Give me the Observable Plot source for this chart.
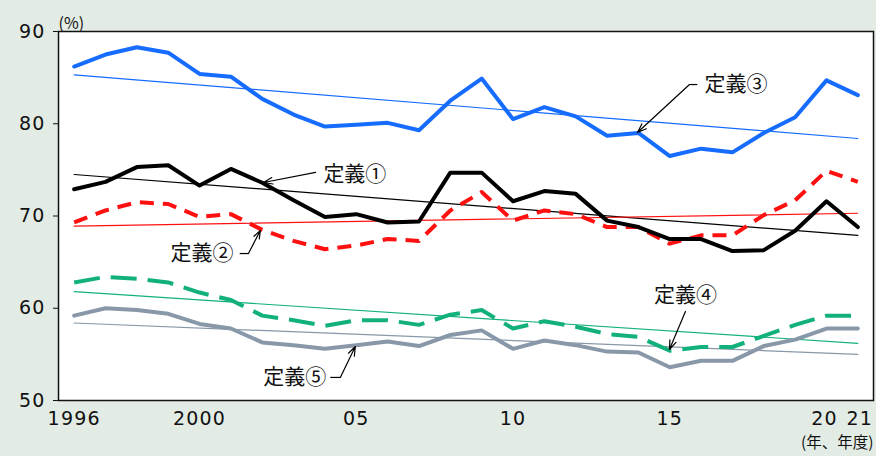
<!DOCTYPE html>
<html><head><meta charset="utf-8">
<script src="https://cdn.jsdelivr.net/npm/d3@7"></script>
<script src="https://cdn.jsdelivr.net/npm/@observablehq/plot@0.6"></script>
<style>
html,body{margin:0;padding:0;background:#e3ece4;}
#chart svg{display:block;}
#chart g[aria-label="x-axis tick label"] text,
#chart g[aria-label="y-axis tick label"] text{letter-spacing:1.2px;}
</style></head><body><div id="chart"></div>
<script>
const years = [1996,1997,1998,1999,2000,2001,2002,2003,2004,2005,2006,2007,2008,2009,2010,2011,2012,2013,2014,2015,2016,2017,2018,2019,2020,2021];
const def1 = [72.9,73.7,75.3,75.5,73.3,75.1,73.6,71.7,69.9,70.2,69.3,69.4,74.7,74.7,71.6,72.7,72.4,69.5,68.8,67.5,67.5,66.2,66.3,68.4,71.6,68.8];
const def2 = [69.3,70.6,71.5,71.3,69.9,70.2,68.5,67.3,66.4,66.8,67.5,67.3,70.6,72.6,69.5,70.6,70.2,68.8,68.8,67.0,67.9,67.9,70.1,71.7,74.9,73.7];
const def3 = [86.2,87.5,88.3,87.7,85.4,85.1,82.7,81.0,79.7,79.9,80.1,79.3,82.5,84.9,80.5,81.8,80.8,78.7,79.0,76.5,77.3,76.9,79.0,80.7,84.7,83.1];
const def4 = [62.8,63.4,63.2,62.8,61.7,60.9,59.2,58.7,58.1,58.7,58.7,58.2,59.3,59.8,57.8,58.6,58.0,57.2,56.9,55.4,55.8,55.8,57.0,58.2,59.2,59.2];
const def5 = [59.2,60.0,59.8,59.4,58.3,57.8,56.3,56.0,55.6,56.0,56.4,55.9,57.1,57.6,55.6,56.5,56.0,55.3,55.2,53.6,54.3,54.3,55.9,56.6,57.8,57.8];
// trend line end values (1996, 2021)
const trendYears = [1996, 2021];
const trend1 = [74.5, 67.9];
const trend2 = [68.9, 70.3];
const trend3 = [85.3, 78.4];
const trend4 = [61.8, 56.2];
const trend5 = [58.4, 55.0];
const yTicks = [50, 60, 70, 80, 90];
const xTicks = [1996, 2000, 2005, 2010, 2015];
const xTickLabels = ["1996", "2000", "05", "10", "15"];
const xTicksEnd = [2020, 2021];
const xTickLabelsEnd = ["20", "21"];
const seriesNames = ["定義①", "定義②", "定義③", "定義④", "定義⑤"];
// label anchors (year, value)
const labelX = [2003.95, 2001.08, 2016.11, 2015.5, 2004.04];
const labelY = [74.5, 65.93, 84.25, 61.4, 52.5];
const labelAnchor = ["start", "end", "start", "middle", "end"];
// leader stubs and arrows (year, value)
const stub1X = [null, 2001.28, 2015.88, null, 2004.17];
const stub2X = [null, 2001.56, 2015.63, null, 2004.49];
const arrowFromX = [2003.7, 2001.56, 2015.63, 2015.5, 2004.49];
const arrowFromY = [74.72, 65.93, 84.25, 59.65, 52.5];
const arrowToX = [2002.04, 2001.94, 2013.97, 2014.99, 2004.97];
const arrowToY = [73.63, 68.44, 79.05, 55.53, 55.85];

const colors = ["#000000", "#ff1010", "#156cff", "#12b07c", "#8898a8"];
const series = [def1, def2, def3, def4, def5];
const trends = [trend1, trend2, trend3, trend4, trend5];
const dashes = [null, "14,9", null, "26,11", null];

const rows = [];
series.forEach((s, i) => s.forEach((v, j) => rows.push({name: seriesNames[i], year: years[j], value: v})));
const trendRows = [];
trends.forEach((t, i) => t.forEach((v, j) => trendRows.push({name: seriesNames[i], year: trendYears[j], value: v})));

const marks = [Plot.frame({fill: "white", stroke: null})];
trends.forEach((t, i) => {
  marks.push(Plot.line(trendRows.filter(d => d.name === seriesNames[i]), {x: "year", y: "value", stroke: colors[i], strokeWidth: 1.2}));
});
[3, 4, 1, 0, 2].forEach(i => {
  marks.push(Plot.line(rows.filter(d => d.name === seriesNames[i]), {
    x: "year", y: "value", stroke: colors[i], strokeWidth: 4,
    strokeDasharray: dashes[i] || undefined,
    strokeLinecap: dashes[i] ? "butt" : "round", strokeLinejoin: "round"
  }));
});
const ann = seriesNames.map((n, i) => ({n, lx: labelX[i], ly: labelY[i], a: labelAnchor[i],
  s1: stub1X[i], s2: stub2X[i], fx: arrowFromX[i], fy: arrowFromY[i], tx: arrowToX[i], ty: arrowToY[i]}));
ann.forEach(d => {
  if (d.s1 != null) marks.push(Plot.link([d], {x1: "s1", x2: "s2", y1: "fy", y2: "fy", stroke: "black", strokeWidth: 1.2}));
  marks.push(Plot.arrow([d], {x1: "fx", y1: "fy", x2: "tx", y2: "ty", stroke: "black", strokeWidth: 1.2, headLength: 12, headAngle: 40}));
  marks.push(Plot.text([d], {x: "lx", y: "ly", text: "n", textAnchor: d.a, fontSize: 21, fill: "#111"}));
});
marks.push(Plot.frame({stroke: "#111", strokeWidth: 1.5}));
const tickFont = "'DejaVu Sans', 'Noto Sans', sans-serif";
marks.push(Plot.axisY({ticks: yTicks, tickSize: 5, tickPadding: 8, fontSize: 19, fontFamily: tickFont, label: null}));
marks.push(Plot.axisX({ticks: xTicks, tickFormat: d => xTickLabels[xTicks.indexOf(d)], tickSize: 0, tickPadding: 11, fontSize: 19, fontFamily: tickFont, label: null}));
marks.push(Plot.axisX({ticks: [xTicksEnd[0]], tickFormat: () => xTickLabelsEnd[0], tickSize: 0, tickPadding: 11, fontSize: 19, fontFamily: tickFont, dx: -2, label: null}));
marks.push(Plot.axisX({ticks: [xTicksEnd[1]], tickFormat: () => xTickLabelsEnd[1], tickSize: 0, tickPadding: 11, fontSize: 19, fontFamily: tickFont, dx: 2, label: null}));
marks.push(Plot.text(["(%)"], {frameAnchor: "top-left", text: d => d, dx: 0, dy: -14, textAnchor: "start", fontSize: 16, fill: "#111"}));
marks.push(Plot.text(["(年、年度)"], {frameAnchor: "bottom-right", text: d => d, dx: 0, dy: 47.5, textAnchor: "end", fontSize: 15.5, fill: "#111"}));

const chart = Plot.plot({
  width: 876, height: 456,
  marginLeft: 58, marginRight: 3, marginTop: 31, marginBottom: 56,
  x: {domain: [1995.5, 2021.5]},
  y: {domain: [50, 90]},
  style: {fontFamily: "'Noto Sans CJK JP', 'Noto Sans', sans-serif", background: "transparent", color: "#111", overflow: "visible"},
  marks
});
document.getElementById("chart").append(chart);
</script>
</body></html>
